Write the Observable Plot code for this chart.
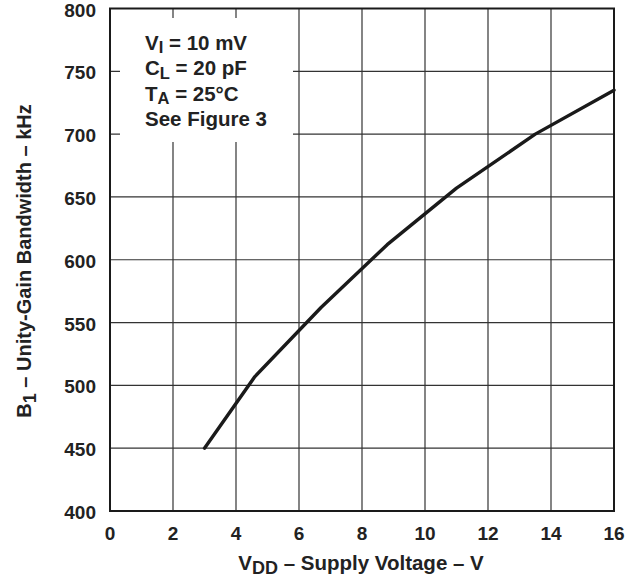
<!DOCTYPE html>
<html>
<head>
<meta charset="utf-8">
<script src="https://cdn.jsdelivr.net/npm/d3@7"></script>
<script src="https://cdn.jsdelivr.net/npm/@observablehq/plot@0.6"></script>
<style>
  html, body { margin: 0; padding: 0; background: #fff; }
  #chart svg { display: block; }
</style>
</head>
<body>
<div id="chart"></div>
<script>
// Data
const vdd = [3, 4.6, 6.7, 8.8, 11, 13.5, 16];           // V
const bandwidth = [450, 507, 562, 612, 657, 700, 735];  // kHz
const xTicks = [0, 2, 4, 6, 8, 10, 12, 14, 16];
const yTicks = [400, 450, 500, 550, 600, 650, 700, 750, 800];
const noteLines = [
  [["V", false], ["I", true], [" = 10 mV", false]],
  [["C", false], ["L", true], [" = 20 pF", false]],
  [["T", false], ["A", true], [" = 25°C", false]],
  [["See Figure 3", false]]
];

const data = vdd.map((v, i) => ({v, b: bandwidth[i]}));

const W = 634, H = 577;
const mL = 109.5, mR = 20.5, mT = 8, mB = 66.5;

const chart = Plot.plot({
  width: W,
  height: H,
  marginLeft: mL,
  marginRight: mR,
  marginTop: mT,
  marginBottom: mB,
  style: {
    fontFamily: "'Liberation Sans', Arial, Helvetica, sans-serif",
    fontSize: "19px",
    fontWeight: "bold",
    color: "#222",
    background: "#fff"
  },
  x: {domain: [0, 16]},
  y: {domain: [400, 800]},
  marks: [
    Plot.gridX(xTicks, {stroke: "#333", strokeOpacity: 1, strokeWidth: 1.2}),
    Plot.gridY(yTicks, {stroke: "#333", strokeOpacity: 1, strokeWidth: 1.2}),
    Plot.axisX(xTicks, {tickSize: 0, tickPadding: 15, label: null, tickFormat: d => String(d), fill: "#222"}),
    Plot.axisY(yTicks, {tickSize: 0, tickPadding: 14, label: null, tickFormat: d => String(d), fill: "#222", dy: 2}),
    Plot.line(data, {x: "v", y: "b", stroke: "#1a1a1a", strokeWidth: 3.4}),
    Plot.frame({stroke: "#1a1a1a", strokeWidth: 2})
  ]
});

document.getElementById("chart").appendChild(chart);

const svg = d3.select(chart);
const FONT = "'Liberation Sans', Arial, Helvetica, sans-serif";

// Annotation box (white background hides the grid)
svg.append("rect")
  .attr("x", 120).attr("y", 18).attr("width", 173).attr("height", 124)
  .attr("fill", "#fff");

const note = svg.append("g")
  .attr("font-family", FONT).attr("font-size", 20.5).attr("font-weight", "bold")
  .attr("fill", "#222").attr("text-anchor", "start");
noteLines.forEach((parts, i) => {
  const t = note.append("text").attr("x", 145).attr("y", 49.5 + i * 25.6)
    .attr("text-anchor", "start");
  let shifted = false;
  parts.forEach(([s, sub]) => {
    const ts = t.append("tspan").text(s);
    if (sub) { ts.attr("font-size", 16.5).attr("dy", 3.5); shifted = true; }
    else if (shifted) { ts.attr("dy", -3.5); shifted = false; }
  });
});

// X axis title
const xt = svg.append("text")
  .attr("x", 361).attr("y", 570).attr("text-anchor", "middle")
  .attr("font-family", FONT).attr("font-size", 20.5).attr("font-weight", "bold").attr("fill", "#222");
xt.append("tspan").text("V");
xt.append("tspan").attr("font-size", 18).attr("dy", 4).text("DD");
xt.append("tspan").attr("dy", -4).text(" – Supply Voltage – V");

// Y axis title
const yt = svg.append("text")
  .attr("transform", "translate(31,261) rotate(-90)").attr("text-anchor", "middle")
  .attr("font-family", FONT).attr("font-size", 20).attr("font-weight", "bold").attr("fill", "#222");
yt.append("tspan").text("B");
yt.append("tspan").attr("font-size", 18).attr("dy", 5).text("1");
yt.append("tspan").attr("dy", -5).text(" – Unity-Gain Bandwidth – kHz");
</script>
</body>
</html>
